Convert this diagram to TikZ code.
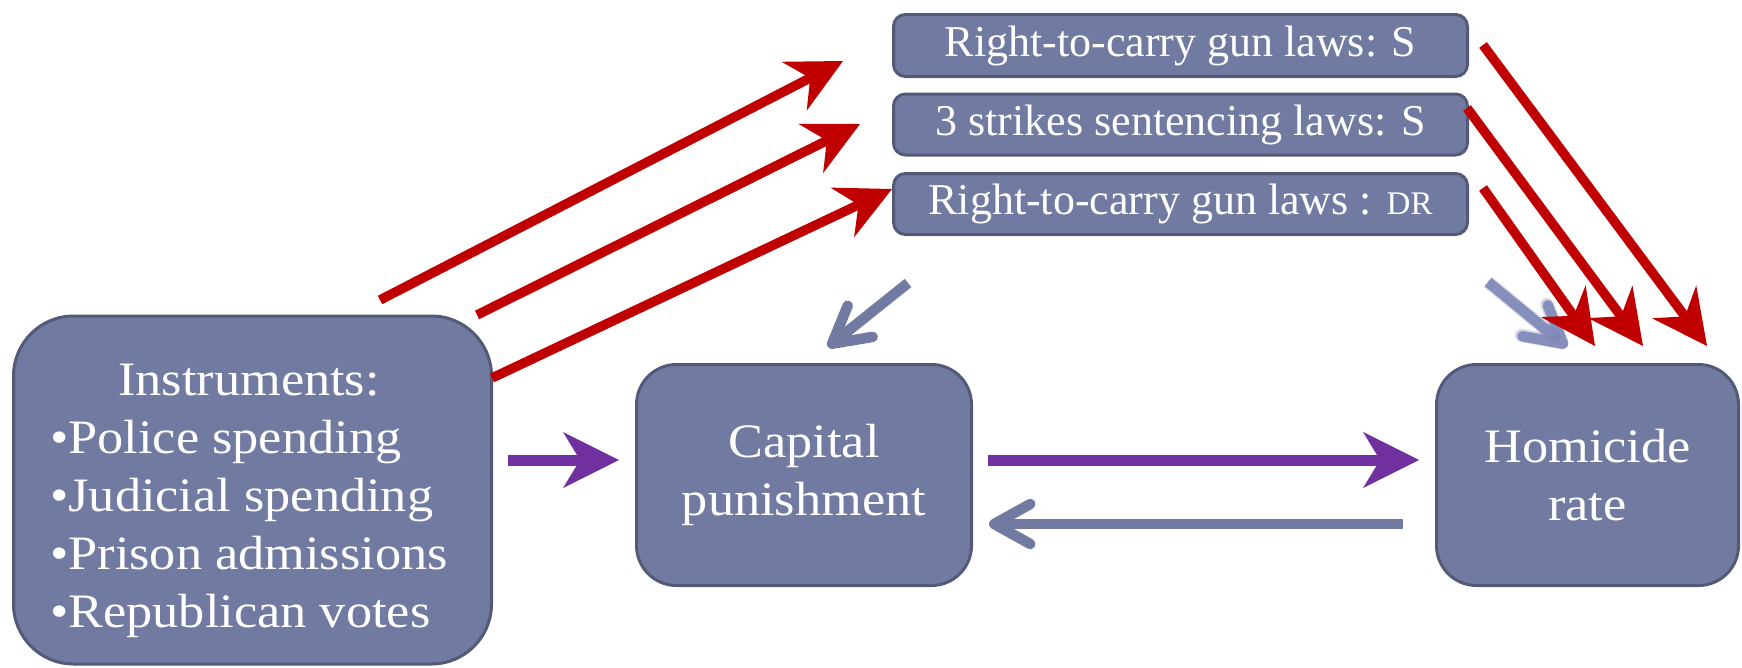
\documentclass[tikz,border=0pt]{standalone}
\usepackage{fontspec}
\setmainfont{Liberation Serif}
\newfontfamily\widefont[FakeStretch=1.09]{Liberation Serif}
\usetikzlibrary{arrows.meta}
\definecolor{boxfill}{HTML}{717AA0}
\definecolor{boxline}{HTML}{525A78}
\definecolor{redarr}{HTML}{C00000}
\definecolor{purparr}{HTML}{7030A0}
\definecolor{bluearr}{HTML}{717AA0}
\definecolor{softarr}{HTML}{7E88B6}
\begin{document}
\begin{tikzpicture}[x=1pt,y=-1pt,
  box/.style={draw=boxline, line width=3pt, fill=boxfill, text=white, inner sep=0pt, align=center},
  bigtext/.style={font=\widefont\fontsize{48}{58}\selectfont},
  smalltext/.style={font=\fontsize{44}{50}\selectfont},
  redarrow/.style={draw=redarr, line width=9.5pt, -{Stealth[length=55pt, width=55pt, inset=18pt, line width=0pt]}},
  purparrow/.style={draw=purparr, line width=11pt, -{Stealth[length=56pt, width=56pt, inset=17pt, line width=0pt]}},
  bluearrow/.style={draw=bluearr, line width=10.5pt, -{Straight Barb[length=36pt, width=40pt, round]}},
  softarrow/.style={draw=softarr, line width=10.5pt, -{Straight Barb[length=36pt, width=40pt, round]}}
]
\useasboundingbox (0,0) rectangle (1742,667);

% boxes
\node[box, rounded corners=60pt, minimum width=478pt, minimum height=348pt] (inst) at (252.5,490) {};
\node[text=white, bigtext, anchor=base west, inner sep=0pt] (insttext) at (50,395)
  {\begin{tabular}[t]{@{}l@{}}\multicolumn{1}{c}{Instruments:}\\ •Police spending\\ •Judicial spending\\ •Prison admissions\\ •Republican votes\end{tabular}};

\node[box, bigtext, rounded corners=40pt, minimum width=335pt, minimum height=221pt] (cap) at (804,475) {Capital\\punishment};
\node[box, bigtext, rounded corners=40pt, minimum width=302pt, minimum height=221pt] (hom) at (1587.5,475) {Homicide\\rate};

\node[box, smalltext, rounded corners=12pt, minimum width=574pt, minimum height=62pt] (rtc) at (1180.5,45.5) {Right-to-carry gun laws: S};
\node[box, smalltext, rounded corners=12pt, minimum width=574pt, minimum height=61pt] (tsl) at (1180.5,124.5) {3 strikes sentencing laws: S};
\node[box, smalltext, rounded corners=12pt, minimum width=574pt, minimum height=61pt] (rtcdr) at (1180.5,204) {Right-to-carry gun laws : {\fontsize{33}{38}\selectfont DR}};

% arrow end points
\coordinate (r1a) at (380,300);  \coordinate (r1b) at (843,61);
\coordinate (r2a) at (477,315);  \coordinate (r2b) at (860,124);
\coordinate (r3a) at (492,378);  \coordinate (r3b) at (892,189);
\coordinate (r4a) at (1483,45);  \coordinate (r4b) at (1707,346);
\coordinate (r5a) at (1467,108); \coordinate (r5b) at (1643,346);
\coordinate (r6a) at (1483,188); \coordinate (r6b) at (1595,346);
\coordinate (b1a) at (908,283);  \coordinate (b1b) at (828,347);
\coordinate (b2a) at (1488,282); \coordinate (b2b) at (1567,347);
\coordinate (b3a) at (1403,524); \coordinate (b3b) at (989,524);
\coordinate (p1a) at (508,460);  \coordinate (p1b) at (619,460);
\coordinate (p2a) at (988,460);  \coordinate (p2b) at (1419,460);

% soft (blurred) arrow
\draw[softarrow, opacity=0.35, line width=13pt] (b2a) -- (b2b);
\draw[softarrow, opacity=0.9] (b2a) -- (b2b);

% red arrows
\draw[redarrow] (r1a) -- (r1b);
\draw[redarrow] (r2a) -- (r2b);
\draw[redarrow] (r3a) -- (r3b);
\draw[redarrow] (r4a) -- (r4b);
\draw[redarrow] (r5a) -- (r5b);
\draw[redarrow] (r6a) -- (r6b);

% blue-grey arrows
\draw[bluearrow] (b1a) -- (b1b);
\draw[bluearrow] (b3a) -- (b3b);

% purple arrows
\draw[purparrow] (p1a) -- (p1b);
\draw[purparrow] (p2a) -- (p2b);
\end{tikzpicture}
\end{document}
